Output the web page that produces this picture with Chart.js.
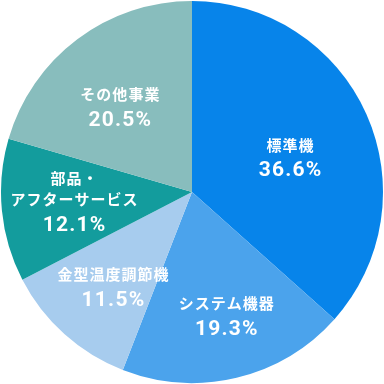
<!DOCTYPE html>
<html><head><meta charset="utf-8">
<script src="https://cdn.jsdelivr.net/npm/chart.js@4"></script>
<style>html,body{margin:0;padding:0;background:#fff}#wrap{width:384px;height:384px}</style>
</head><body><div id="wrap"><canvas id="c" width="384" height="384"></canvas></div>
<script>
const categories = [["標準機"], ["システム機器"], ["金型温度調節機"], ["部品・", "アフターサービス"], ["その他事業"]];
const shares = [36.6, 19.3, 11.5, 12.1, 20.5];
const colors = ["#0784EA", "#4BA3EC", "#A7CCEE", "#139C9D", "#88BDBD"];
// label block centres, relative to pie centre in units of radius
const labelOffsets = [[0.516, -0.177], [0.182, 0.651], [-0.411, 0.5], [-0.615, 0.052], [-0.375, -0.443]];

const labelPlugin = {
  id: 'sliceLabels',
  afterDatasetsDraw(chart) {
    const ctx = chart.ctx;
    const meta = chart.getDatasetMeta(0);
    meta.data.forEach((arc, i) => {
      const R = arc.outerRadius;
      const cx = arc.x + labelOffsets[i][0] * R;
      const cy = arc.y + labelOffsets[i][1] * R;
      const lines = categories[i];
      const lh = 21, gap = 26;
      const total = (lines.length - 1) * lh + gap;
      let y = cy - total / 2;
      ctx.save();
      ctx.fillStyle = '#fff';
      ctx.textAlign = 'center';
      ctx.textBaseline = 'middle';
      ctx.letterSpacing = '1px';
      ctx.font = 'bold 15px "Noto Sans CJK JP"';
      lines.forEach((t, k) => { ctx.fillText(t, cx, y + k * lh); });
      y += (lines.length - 1) * lh + gap;
      ctx.letterSpacing = '1.2px';
      ctx.font = 'bold 21px Roboto';
      ctx.fillText(shares[i].toFixed(1) + '%', cx, y);
      ctx.restore();
    });
  }
};

new Chart(document.getElementById('c'), {
  type: 'pie',
  data: {
    labels: categories.map(l => l.join('')),
    datasets: [{ data: shares, backgroundColor: colors, borderWidth: 0, hoverOffset: 0 }]
  },
  options: {
    responsive: false,
    animation: false,
    layout: { padding: 1 },
    plugins: { legend: { display: false }, tooltip: { enabled: false } }
  },
  plugins: [labelPlugin]
});
</script>
</body></html>
